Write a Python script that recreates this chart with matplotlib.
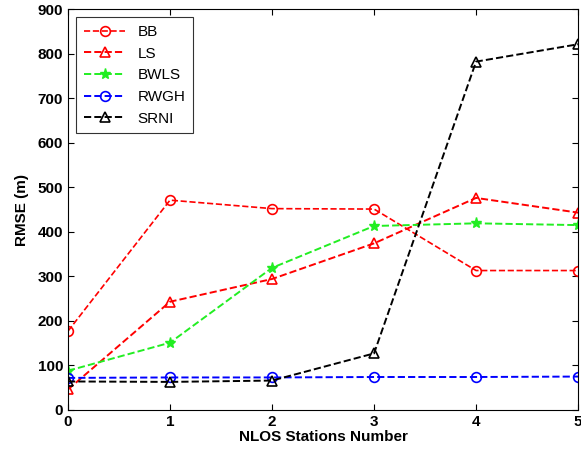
import numpy as np
import matplotlib
matplotlib.use("Agg")
import matplotlib.pyplot as plt

# data
stations = [0, 1, 2, 3, 4, 5]
bb = [177, 471, 452, 451, 313, 313]
ls = [46, 243, 294, 374, 476, 443]
bwls = [88, 151, 319, 413, 419, 415]
rwgh = [72, 73, 73, 74, 74, 75]
srni = [64, 63, 66, 127, 782, 821]

plt.rcParams['font.family'] = ['Liberation Sans', 'DejaVu Sans']

fig = plt.figure(figsize=(5.81, 4.53), dpi=100)
ax = fig.add_axes([0.117, 0.095, 0.878, 0.885])

ax.plot(stations, bb, '--o', color='red', mfc='none', ms=7, lw=1.2, mew=1.2, label='BB')
ax.plot(stations, ls, '--^', color='red', mfc='none', ms=7, lw=1.4, mew=1.2, label='LS')
ax.plot(stations, bwls, '--*', color='#22ee22', ms=8, lw=1.4, label='BWLS')
ax.plot(stations, rwgh, '--o', color='blue', mfc='none', ms=7, lw=1.4, mew=1.2, label='RWGH')
ax.plot(stations, srni, '--^', color='black', mfc='none', ms=7, lw=1.4, mew=1.2, label='SRNI')

ax.set_xlim(0, 5)
ax.set_ylim(0, 900)
ax.set_xticks(stations)
ax.set_yticks(np.arange(0, 901, 100))
ax.tick_params(direction='in', top=True, right=True, labelsize=11, length=4)
for t in ax.get_xticklabels() + ax.get_yticklabels():
    t.set_fontweight('bold')
ax.set_xlabel('NLOS Stations Number', fontsize=11, fontweight='bold', labelpad=1)
ax.set_ylabel('RMSE (m)', fontsize=11, fontweight='bold', labelpad=6)

leg = ax.legend(loc='upper left', fontsize=11, fancybox=False, edgecolor='black',
                handlelength=2.7, borderaxespad=0.55, labelspacing=0.5,
                borderpad=0.5)
leg.get_frame().set_linewidth(0.8)

fig.savefig('out.png', dpi=100)
